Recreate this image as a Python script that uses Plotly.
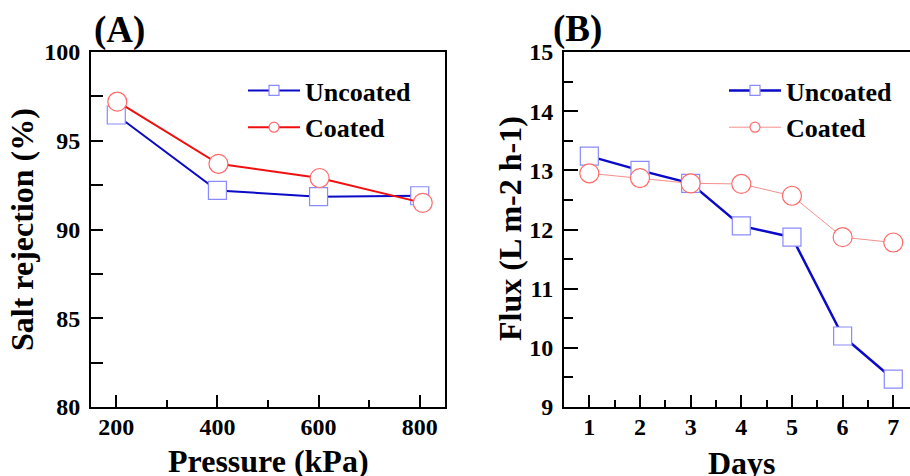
import plotly.graph_objects as go

# ---- data ----
pressure_uncoated = [200, 400, 600, 800]
pressure_coated = [202, 402, 602, 806]
rejection_uncoated = [96.45, 92.2, 91.85, 91.9]
rejection_coated = [97.2, 93.7, 92.9, 91.5]

days = [1, 2, 3, 4, 5, 6, 7]
flux_uncoated = [13.24, 13.0, 12.78, 12.06, 11.87, 10.2, 9.47]
flux_coated = [12.95, 12.87, 12.78, 12.77, 12.57, 11.87, 11.78]

pressure_ticks = [200, 400, 600, 800]
rejection_ticks = [80, 85, 90, 95, 100]
day_ticks = [1, 2, 3, 4, 5, 6, 7]
flux_ticks = [9, 10, 11, 12, 13, 14, 15]

FONT = "Liberation Serif"
W, H = 910, 476

BLUE = "#0a0ac8"
BLUE_M = "#8a8aff"
RED = "#f01010"
RED_M = "#ff6a6a"
RED_L = "#f4908c"

fig = go.Figure()


def add_series(x, y, name, xa, ya, leg, color, lw, mcolor, symbol, msize):
    # data trace
    fig.add_trace(go.Scatter(
        x=x, y=y, name=name, mode="lines+markers", xaxis=xa, yaxis=ya,
        showlegend=False, line=dict(color=color, width=lw),
        marker=dict(symbol=symbol, size=msize, color="white", line=dict(color=mcolor, width=1.2)),
        cliponaxis=False))
    # legend entry (smaller marker, as in the reference key)
    fig.add_trace(go.Scatter(
        x=[None], y=[None], name=name, mode="lines+markers", xaxis=xa, yaxis=ya,
        legend=leg, showlegend=True, line=dict(color=color, width=lw),
        marker=dict(symbol=symbol, size=10, color="white", line=dict(color=mcolor, width=1.2))))


add_series(pressure_uncoated, rejection_uncoated, "Uncoated", "x", "y", "legend",
           BLUE, 2, BLUE_M, "square", 18)
add_series(pressure_coated, rejection_coated, "Coated", "x", "y", "legend",
           RED, 2, RED_M, "circle", 19)
add_series(days, flux_uncoated, "Uncoated", "x2", "y2", "legend2",
           BLUE, 2.5, BLUE_M, "square", 18)
add_series(days, flux_coated, "Coated", "x2", "y2", "legend2",
           RED_L, 1, RED_M, "circle", 19)

ydom = [1 - 407 / H, 1 - 52 / H]
tickfont = dict(family=FONT, size=24, color="black", weight="bold")
axis_common = dict(showgrid=False, zeroline=False, showline=True, linecolor="black",
                   linewidth=2, ticks="inside", tickcolor="black", tickwidth=2,
                   tickfont=tickfont, automargin=False)

legend_common = dict(xanchor="left", yanchor="top", bgcolor="rgba(0,0,0,0)",
                     borderwidth=0, itemsizing="trace", itemwidth=52,
                     font=dict(family=FONT, size=26, color="black", weight="bold"),
                     tracegroupgap=0)

fig.update_layout(
    width=W, height=H,
    margin=dict(l=0, r=0, t=0, b=0, autoexpand=False),
    paper_bgcolor="white", plot_bgcolor="white",
    font=dict(family=FONT, color="black"),
    xaxis=dict(domain=[91 / W, 445 / W], range=[150, 850], anchor="y",
               tickvals=pressure_ticks, ticklen=12, mirror=True,
               minor=dict(tickvals=[300, 500, 700], ticklen=7, tickwidth=2, tickcolor="black", ticks="inside"),
               ticklabelstandoff=-3, **axis_common),
    yaxis=dict(domain=ydom, range=[80, 100], anchor="x",
               tickvals=rejection_ticks, ticklen=12, mirror=True,
               minor=dict(tickvals=[82.5, 87.5, 92.5, 97.5], ticklen=12, tickwidth=2, tickcolor="black", ticks="inside"),
               ticklabelstandoff=4, **axis_common),
    xaxis2=dict(domain=[564 / W, 1.0], range=[0.5, 7.33], anchor="y2",
                tickvals=day_ticks, ticklen=12, mirror=True,
                minor=dict(tickvals=[1.5, 2.5, 3.5, 4.5, 5.5, 6.5], ticklen=7, tickwidth=2, tickcolor="black", ticks="inside"),
                ticklabelstandoff=-3, **axis_common),
    yaxis2=dict(domain=ydom, range=[9, 15], anchor="x2",
                tickvals=flux_ticks, ticklen=14, mirror=False,
                minor=dict(tickvals=[9.5, 10.5, 11.5, 12.5, 13.5, 14.5], ticklen=9, tickwidth=2, tickcolor="black", ticks="inside"),
                ticklabelstandoff=4, **axis_common),
    legend=dict(x=243 / W, y=1 - 67 / H, **legend_common),
    legend2=dict(x=724 / W, y=1 - 67 / H, **legend_common),
    showlegend=True,
)

ann_font = dict(family=FONT, size=32, color="black", weight="bold")
fig.add_annotation(text="Salt rejection (%)", xref="paper", yref="paper",
                   x=22 / W, y=1 - 230 / H, textangle=-90, showarrow=False,
                   xanchor="center", yanchor="middle", font=ann_font)
fig.add_annotation(text="Flux (L m-2 h-1)", xref="paper", yref="paper",
                   x=510 / W, y=1 - 229 / H, textangle=-90, showarrow=False,
                   xanchor="center", yanchor="middle", font=ann_font)
fig.add_annotation(text="Pressure (kPa)", xref="paper", yref="paper",
                   x=268 / W, y=1 - 461 / H, showarrow=False,
                   xanchor="center", yanchor="middle", font=ann_font)
fig.add_annotation(text="Days", xref="paper", yref="paper",
                   x=742 / W, y=1 - 463 / H, showarrow=False,
                   xanchor="center", yanchor="middle", font=ann_font)
fig.add_annotation(text="(A)", xref="paper", yref="paper",
                   x=119 / W, y=1 - 30 / H, showarrow=False,
                   xanchor="center", yanchor="middle", font=dict(family=FONT, size=37, color="black", weight="bold"))
fig.add_annotation(text="(B)", xref="paper", yref="paper",
                   x=577 / W, y=1 - 29 / H, showarrow=False,
                   xanchor="center", yanchor="middle", font=dict(family=FONT, size=37, color="black", weight="bold"))

fig.write_html(
    "out.html",
    config={"displayModeBar": False},
    post_script="document.body.style.margin='0';document.body.style.overflow='hidden';",
)
